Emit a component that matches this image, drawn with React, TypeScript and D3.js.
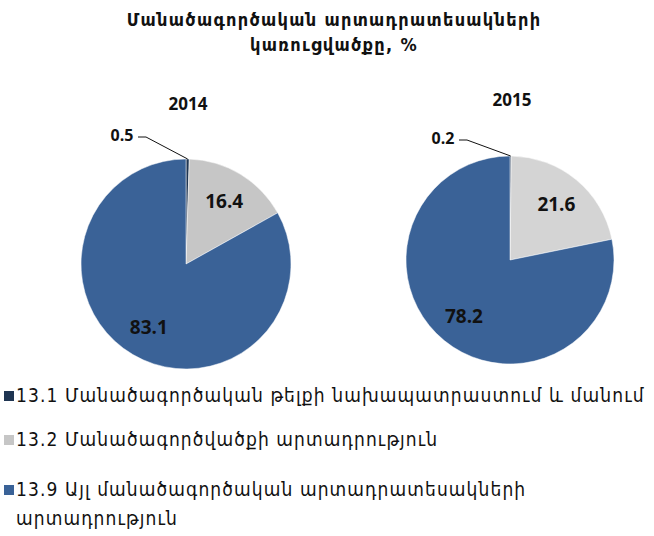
import React from "react";
import * as d3 from "d3";

const years = ["2014", "2015"];
const categories = ["13.1", "13.2", "13.9"];
const values2014 = [0.5, 16.4, 83.1];
const values2015 = [0.2, 21.6, 78.2];
const legendLabels = [
  ["13.1 Մանածագործական թելքի նախապատրաստում և մանում"],
  ["13.2 Մանածագործվածքի արտադրություն"],
  ["13.9 Այլ մանածագործական արտադրատեսակների", "արտադրություն"],
];
const titleLines = ["Մանածագործական արտադրատեսակների", "կառուցվածքը, %"];
const colors = ["#1f3552", "#c6c6c6", "#3a6297"];
const colors2015 = ["#1f3552", "#d4d4d4", "#3a6297"];

const W = 654;
const H = 536;

const pies = [
  { year: years[0], values: values2014, pal: colors, cx: 186, cy: 264, r: 105, yearY: 110, small: { x: 122, y: 141 } },
  { year: years[1], values: values2015, pal: colors2015, cx: 510, cy: 260, r: 104, yearY: 106, small: { x: 443, y: 144 } },
];

const armFont = "'DejaVu Sans Condensed', 'DejaVu Sans', sans-serif";
const numFont = "'Open Sans', 'DejaVu Sans', sans-serif";

export default function App() {
  const pieGen = d3.pie<number>().sort(null).value((d) => d);
  return (
    <svg width={W} height={H} style={{ position: "absolute", left: 0, top: 0, background: "#fff" }}>
      {titleLines.map((t, i) => (
        <text key={i} x={334} y={26 + i * 25} textAnchor="middle" fontFamily={armFont} fontWeight="bold" fontSize={18} letterSpacing={1.3} fill="#111">
          {t}
        </text>
      ))}
      {pies.map((p) => {
        const arcs = pieGen(p.values);
        const arc = d3.arc<d3.PieArcDatum<number>>().innerRadius(0).outerRadius(p.r);
        const lblArc = d3.arc<d3.PieArcDatum<number>>().innerRadius(p.r * 0.7).outerRadius(p.r * 0.7);
        const s0 = arcs[0];
        const mid0 = (s0.startAngle + s0.endAngle) / 2;
        const edge: [number, number] = [Math.sin(mid0) * p.r, -Math.cos(mid0) * p.r];
        return (
          <g key={p.year}>
            <text x={p.cx + 2} y={p.yearY} textAnchor="middle" fontFamily={numFont} fontWeight="bold" fontSize={17} fill="#111">
              {p.year}
            </text>
            <g transform={`translate(${p.cx},${p.cy})`}>
              {arcs.map((a, i) => (
                <path key={i} d={arc(a) || ""} fill={p.pal[i]} stroke="#fff" strokeWidth={0.5} />
              ))}
              {arcs.slice(1).map((a, j) => {
                const [x, y] = lblArc.centroid(a);
                return (
                  <text key={j} x={x} y={y} dy="0.35em" textAnchor="middle" fontFamily={numFont} fontWeight="bold" fontSize={19} fill="#111">
                    {a.data.toFixed(1)}
                  </text>
                );
              })}
            </g>
            <polyline
              points={`${p.small.x + 16},${p.small.y - 4} ${p.small.x + 24},${p.small.y - 4} ${p.cx + edge[0]},${p.cy + edge[1]}`}
              fill="none"
              stroke="#111"
              strokeWidth={1}
            />
            <text x={p.small.x} y={p.small.y} textAnchor="middle" fontFamily={numFont} fontWeight="bold" fontSize={16} fill="#111">
              {p.values[0].toFixed(1)}
            </text>
          </g>
        );
      })}
      {legendLabels.map((lines, i) => {
        const y0 = [397, 441, 491][i];
        return (
          <g key={categories[i]}>
            <rect x={4} y={y0 - 6} width={10} height={10} fill={colors[i]} />
            {lines.map((l, k) => (
              <text key={k} x={16} y={y0 + 5 + k * 29} fontFamily={armFont} fontSize={19} letterSpacing={1.1} fill="#111">
                {l}
              </text>
            ))}
          </g>
        );
      })}
    </svg>
  );
}
